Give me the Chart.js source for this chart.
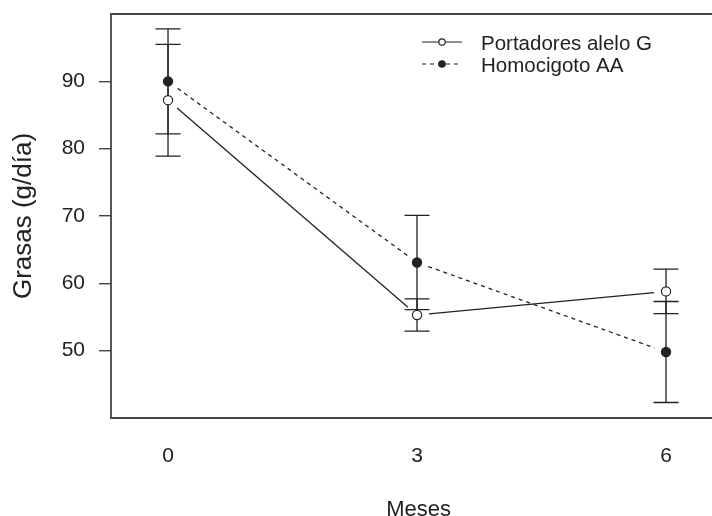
<!DOCTYPE html>
<html><head><meta charset="utf-8">
<script src="https://cdn.jsdelivr.net/npm/chart.js@4/dist/chart.umd.min.js"></script>
<style>html,body{margin:0;padding:0;background:#fff;overflow:hidden;width:712px;height:516px}#wrap{width:732px;height:516px;position:relative}</style>
</head><body><div id="wrap"><canvas id="c"></canvas></div>
<script>
const months = [0, 3, 6];
const seriesNames = ['Portadores alelo G', 'Homocigoto AA'];
const portadoresMean = [87.2, 55.3, 58.8];
const portadoresErr = [8.3, 2.4, 3.3];
const homocigotoMean = [90.0, 63.1, 49.8];
const homocigotoErr = [7.8, 7.0, 7.5];
const yTicks = [50, 60, 70, 80, 90];
const xTicks = [0, 3, 6];
const xTitle = 'Meses';
const yTitle = 'Grasas (g/día)';

const INK = '#222';
const FONT = 'Liberation Sans, Arial, Helvetica, sans-serif';
const errs = [portadoresErr, homocigotoErr];
const dashes = [[], [4, 4]];

const toPts = (arr) => months.map((m, i) => ({x: m, y: arr[i]}));

const errorBars = {
  id: 'errorBars',
  beforeDatasetsDraw(chart) {
    const {ctx, scales: {x, y}} = chart;
    ctx.save();
    ctx.strokeStyle = INK;
    ctx.lineWidth = 1.3;
    chart.data.datasets.forEach((ds, di) => {
      ds.data.forEach((p, i) => {
        const e = errs[di][i];
        const px = x.getPixelForValue(p.x);
        const y1 = y.getPixelForValue(p.y + e);
        const y2 = y.getPixelForValue(p.y - e);
        ctx.beginPath();
        ctx.moveTo(px, y1); ctx.lineTo(px, y2);
        ctx.moveTo(px - 12.5, y1); ctx.lineTo(px + 12.5, y1);
        ctx.moveTo(px - 12.5, y2); ctx.lineTo(px + 12.5, y2);
        ctx.stroke();
      });
    });
    const gap = 12;
    chart.data.datasets.forEach((ds, di) => {
      ctx.setLineDash(dashes[di]);
      ctx.lineWidth = 1.3;
      for (let i = 0; i < ds.data.length - 1; i++) {
        const ax = x.getPixelForValue(ds.data[i].x), ay = y.getPixelForValue(ds.data[i].y);
        const bx = x.getPixelForValue(ds.data[i+1].x), by = y.getPixelForValue(ds.data[i+1].y);
        const dx = bx - ax, dy = by - ay, L = Math.hypot(dx, dy);
        const ux = dx / L, uy = dy / L;
        ctx.beginPath();
        ctx.moveTo(ax + ux * gap, ay + uy * gap);
        ctx.lineTo(bx - ux * gap, by - uy * gap);
        ctx.stroke();
      }
    });
    ctx.restore();
  },
  afterDraw(chart) {
    const {ctx, chartArea: a} = chart;
    ctx.save();
    ctx.strokeStyle = '#444';
    ctx.lineWidth = 1.8;
    ctx.beginPath();
    ctx.moveTo(chart.width, a.top);
    ctx.lineTo(a.left, a.top);
    ctx.lineTo(a.left, a.bottom);
    ctx.lineTo(chart.width, a.bottom);
    ctx.stroke();
    const rows = [42, 64];
    chart.data.datasets.forEach((ds, di) => {
      const ly = rows[di];
      ctx.strokeStyle = INK;
      ctx.lineWidth = 1.2;
      ctx.setLineDash(dashes[di]);
      ctx.beginPath();
      ctx.moveTo(422, ly); ctx.lineTo(462, ly);
      ctx.stroke();
      ctx.setLineDash([]);
      ctx.beginPath();
      ctx.arc(442, ly, 3.2, 0, Math.PI * 2);
      ctx.fillStyle = di === 0 ? '#fff' : INK;
      ctx.fill();
      ctx.stroke();
      ctx.fillStyle = INK;
      ctx.font = '20.5px ' + FONT;
      ctx.textBaseline = 'alphabetic';
      ctx.textAlign = 'left';
      ctx.fillText(ds.label, 481, ly + 7.5);
    });
    ctx.restore();
  }
};

new Chart(document.getElementById('c'), {
  type: 'scatter',
  data: {
    datasets: [
      {label: seriesNames[0], data: toPts(portadoresMean), showLine: false,
       pointRadius: 4.6, pointBackgroundColor: '#fff', pointBorderColor: INK, pointBorderWidth: 1.2},
      {label: seriesNames[1], data: toPts(homocigotoMean), showLine: false,
       pointRadius: 4.6, pointBackgroundColor: INK, pointBorderColor: INK, pointBorderWidth: 1.2}
    ]
  },
  options: {
    responsive: true,
    maintainAspectRatio: false,
    animation: false,
    layout: {padding: {top: 14, right: 0, left: 0, bottom: 0}},
    plugins: {legend: {display: false}, tooltip: {enabled: false}},
    scales: {
      x: {
        type: 'linear', min: -0.687, max: 6.725,
        afterBuildTicks: (s) => { s.ticks = xTicks.map(v => ({value: v})); },
        afterFit: (s) => { s.height = 98; },
        grid: {display: false, drawTicks: false},
        border: {display: false},
        ticks: {color: INK, font: {family: FONT, size: 21}, padding: 26},
        title: {display: true, text: xTitle, color: INK, font: {family: FONT, size: 22}, padding: {top: 0, bottom: -7}}
      },
      y: {
        min: 40, max: 100,
        afterBuildTicks: (s) => { s.ticks = yTicks.map(v => ({value: v})); },
        afterFit: (s) => { s.width = 111; s.paddingTop = 0; s.paddingBottom = 0; },
        grid: {display: true, drawOnChartArea: false, drawTicks: true, tickLength: 12, color: '#444', lineWidth: 1.4},
        border: {display: false},
        ticks: {color: INK, font: {family: FONT, size: 21}, padding: 14},
        title: {display: true, text: yTitle, color: INK, font: {family: FONT, size: 26}, padding: {top: 8, bottom: 0}}
      }
    }
  },
  plugins: [errorBars]
});
</script>
</body></html>
